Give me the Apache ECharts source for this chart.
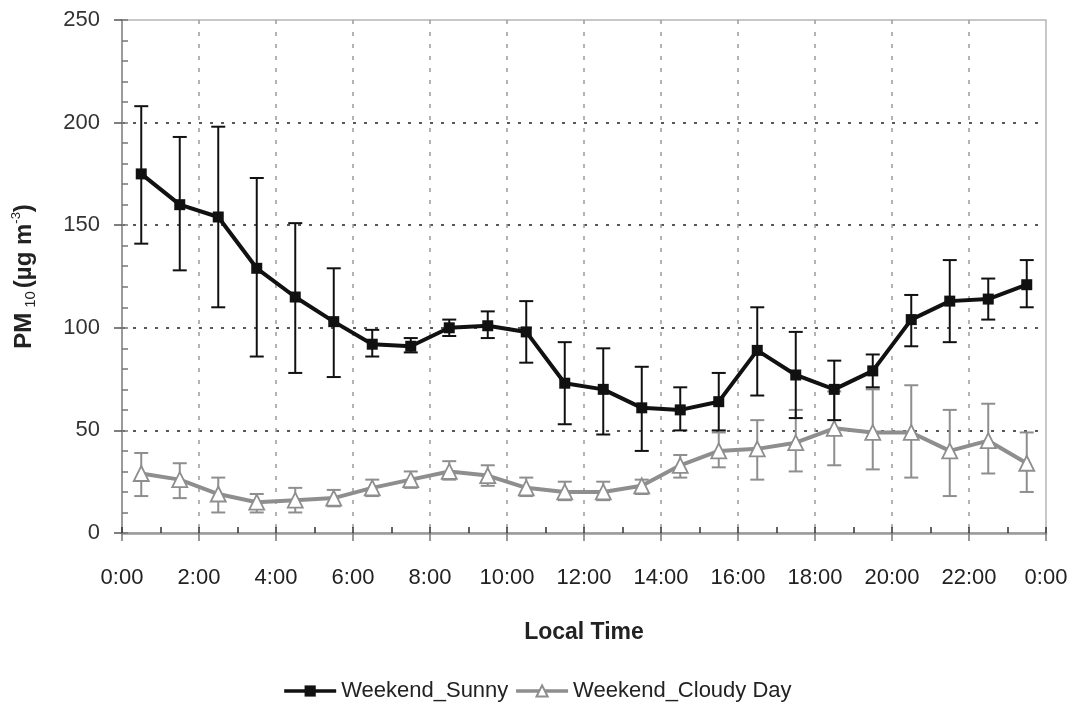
<!DOCTYPE html>
<html>
<head>
<meta charset="utf-8">
<script src="https://cdn.jsdelivr.net/npm/echarts@6/dist/echarts.min.js"></script>
<style>
  html, body { margin: 0; padding: 0; background: #fff; }
  #chart { width: 1074px; height: 716px; }
</style>
</head>
<body>
<div id="chart"></div>
<script>
// Hourly PM10 means (half-hour centres) with error bar limits
const hours = [0.5, 1.5, 2.5, 3.5, 4.5, 5.5, 6.5, 7.5, 8.5, 9.5, 10.5, 11.5,
               12.5, 13.5, 14.5, 15.5, 16.5, 17.5, 18.5, 19.5, 20.5, 21.5, 22.5, 23.5];

const sunnyMean = [175, 160, 154, 129, 115, 103, 92, 91, 100, 101, 98, 73,
                   70, 61, 60, 64, 89, 77, 70, 79, 104, 113, 114, 121];
const sunnyLow  = [141, 128, 110, 86, 78, 76, 86, 88, 96, 95, 83, 53,
                   48, 40, 50, 50, 67, 56, 55, 71, 91, 93, 104, 110];
const sunnyHigh = [208, 193, 198, 173, 151, 129, 99, 95, 104, 108, 113, 93,
                   90, 81, 71, 78, 110, 98, 84, 87, 116, 133, 124, 133];

const cloudyMean = [29, 26, 19, 15, 16, 17, 22, 26, 30, 28, 22, 20,
                    20, 23, 33, 40, 41, 44, 51, 49, 49, 40, 45, 34];
const cloudyLow  = [18, 17, 10, 10, 10, 13, 18, 22, 26, 23, 18, 16,
                    16, 19, 27, 32, 26, 30, 33, 31, 27, 18, 29, 20];
const cloudyHigh = [39, 34, 27, 19, 22, 21, 26, 30, 35, 33, 27, 25,
                    25, 26, 38, 49, 55, 60, 69, 70, 72, 60, 63, 49];

const seriesNames = ['Weekend_Sunny', 'Weekend_Cloudy Day'];
const xTickLabels = ['0:00', '2:00', '4:00', '6:00', '8:00', '10:00', '12:00',
                     '14:00', '16:00', '18:00', '20:00', '22:00', '0:00'];

const FONT = "'Liberation Sans', Arial, sans-serif";
const SUNNY = '#111111';
const CLOUDY = '#8e8e8e';

function pairs(xs, ys) { return xs.map((x, i) => [x, ys[i]]); }
function triples(xs, lo, hi) { return xs.map((x, i) => [x, lo[i], hi[i]]); }

// Vertical error bar with caps at both ends
function errorBar(color, capHalf, width) {
  return function (params, api) {
    const x = api.value(0);
    const top = api.coord([x, api.value(2)]);
    const bot = api.coord([x, api.value(1)]);
    const style = { stroke: color, lineWidth: width };
    return {
      type: 'group',
      children: [
        { type: 'line', shape: { x1: top[0], y1: top[1], x2: bot[0], y2: bot[1] }, style },
        { type: 'line', shape: { x1: top[0] - capHalf, y1: top[1], x2: top[0] + capHalf, y2: top[1] }, style },
        { type: 'line', shape: { x1: bot[0] - capHalf, y1: bot[1], x2: bot[0] + capHalf, y2: bot[1] }, style }
      ]
    };
  };
}

// Companion axis that only draws short inward ticks
function innerTickAxis(kind, max, step, color) {
  return {
    type: 'value',
    min: 0, max: max, interval: step,
    position: kind === 'x' ? 'bottom' : 'left',
    offset: 0,
    axisLine: { show: false },
    axisLabel: { show: false },
    splitLine: { show: false },
    axisTick: { show: true, inside: true, length: 6, lineStyle: { color: color, width: 1.5 } }
  };
}

const chart = echarts.init(document.getElementById('chart'), null, { renderer: 'canvas' });

chart.setOption({
  backgroundColor: '#ffffff',
  animation: false,
  textStyle: { fontFamily: FONT },
  grid: {
    left: 122, right: 28, top: 20, bottom: 183,
    outerBoundsMode: 'none',
    containLabel: false,
    show: true, borderColor: '#b5b5b5', borderWidth: 1.5, backgroundColor: 'transparent'
  },
  legend: {
    data: seriesNames,
    bottom: 9,
    left: 'center',
    itemWidth: 52,
    itemHeight: 14,
    itemGap: 6,
    lineStyle: { width: 3.5 },
    textStyle: { fontFamily: FONT, fontSize: 22, color: '#222' }
  },
  xAxis: [
    {
      type: 'value',
      min: 0, max: 24, interval: 2,
      name: 'Local Time',
      nameLocation: 'middle',
      nameGap: 88,
      nameTextStyle: { fontFamily: FONT, fontSize: 23, fontWeight: 'bold', color: '#222' },
      axisLine: { lineStyle: { color: '#9a9a9a', width: 2.5 } },
      axisTick: { show: true, length: 8, lineStyle: { color: '#777', width: 1.5 } },
      axisLabel: {
        margin: 34,
        fontSize: 22, color: '#222', fontFamily: FONT,
        formatter: (v) => xTickLabels[Math.round(v / 2)]
      },
      splitLine: {
        show: true, showMinLine: false, showMaxLine: false,
        lineStyle: { color: '#9a9a9a', width: 1.5, type: [4, 8] }
      }
    },
    innerTickAxis('x', 24, 1, '#333')
  ],
  yAxis: [
    {
      type: 'value',
      min: 0, max: 250, interval: 50,
      name: '{a|PM}{b|10}{a|(µg m}{c|-3}{a|)}',
      nameLocation: 'middle',
      nameGap: 84,
      nameRotate: 90,
      nameTextStyle: {
        rich: {
          a: { fontFamily: FONT, fontSize: 24, fontWeight: 'bold', color: '#222', lineHeight: 28 },
          b: { fontFamily: FONT, fontSize: 15, color: '#222', verticalAlign: 'bottom', lineHeight: 28, padding: [0, 3, 0, 5] },
          c: { fontFamily: FONT, fontSize: 13, color: '#222', verticalAlign: 'top', lineHeight: 28 }
        }
      },
      axisLine: { show: true, lineStyle: { color: '#9a9a9a', width: 2 } },
      axisTick: { show: true, length: 8, lineStyle: { color: '#555', width: 1.5 } },
      axisLabel: { margin: 22, fontSize: 22, color: '#333', fontFamily: FONT },
      splitLine: {
        show: true, showMinLine: false, showMaxLine: false,
        lineStyle: { color: '#222', width: 1.5, type: [3, 8] }
      }
    },
    innerTickAxis('y', 250, 10, '#777')
  ],
  series: [
    {
      name: 'cloudyError',
      type: 'custom',
      renderItem: errorBar(CLOUDY, 7, 2),
      data: triples(hours, cloudyLow, cloudyHigh),
      encode: { x: 0, y: [1, 2] },
      silent: true,
      z: 2
    },
    {
      name: 'sunnyError',
      type: 'custom',
      renderItem: errorBar(SUNNY, 7, 2),
      data: triples(hours, sunnyLow, sunnyHigh),
      encode: { x: 0, y: [1, 2] },
      silent: true,
      z: 4
    },
    {
      name: seriesNames[1],
      type: 'line',
      data: pairs(hours, cloudyMean),
      symbol: 'triangle',
      symbolSize: 15,
      showAllSymbol: true,
      color: CLOUDY,
      lineStyle: { color: CLOUDY, width: 4 },
      itemStyle: { color: '#ffffff', borderColor: CLOUDY, borderWidth: 1.8 },
      z: 3
    },
    {
      name: seriesNames[0],
      type: 'line',
      data: pairs(hours, sunnyMean),
      symbol: 'rect',
      symbolSize: 11,
      showAllSymbol: true,
      color: SUNNY,
      lineStyle: { color: SUNNY, width: 4 },
      itemStyle: { color: SUNNY },
      z: 5
    }
  ]
});
</script>
</body>
</html>
